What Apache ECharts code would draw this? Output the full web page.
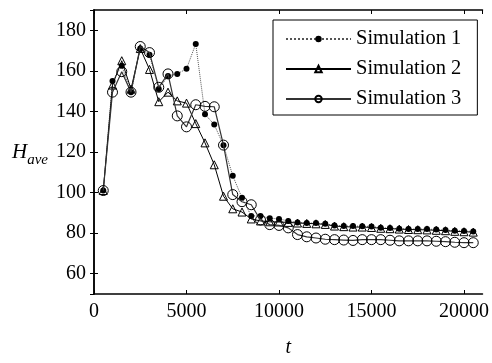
<!DOCTYPE html>
<html><head><meta charset="utf-8">
<script src="https://cdn.jsdelivr.net/npm/echarts@6/dist/echarts.min.js"></script>
<style>html,body{margin:0;padding:0;background:#fff}#c{width:492px;height:363px}</style>
</head><body><div id="c"></div>
<script>
const t = [500,1000,1500,2000,2500,3000,3500,4000,4500,5000,5500,6000,6500,7000,7500,8000,8500,9000,9500,10000,10500,11000,11500,12000,12500,13000,13500,14000,14500,15000,15500,16000,16500,17000,17500,18000,18500,19000,19500,20000,20500];
const sim1 = [101,155,162.5,149.5,171,168,151,157.5,158.5,161,173.3,138.6,133.5,123.3,108.3,97.4,88.5,88.5,87.4,87,86,85.3,85,85,84.6,83.8,83.5,83.5,83.4,83.3,82.6,82.5,82.2,82,82,82,81.8,81.5,81.2,81.1,80.8];
const sim2 = [101,153,165,151,171,160.7,144.8,149.5,145.2,144.1,134,124.5,113.7,98.2,92,90.4,87,86,85.6,85.5,85.3,85,84.8,84.6,84.3,83.5,83.2,83,83,82.8,82.4,82.2,82,81.8,81.7,81.6,81.4,81.2,80.9,80.7,80.5];
const sim3 = [101,149.5,159.6,149.5,172,169,151.9,158.5,137.8,132.4,143.3,142.5,142.3,123.4,99,95.5,94,86.5,84.2,83.8,82.6,79.3,78.2,77.6,77,76.8,76.6,76.4,76.8,76.8,76.8,76.5,76.2,76.2,76.2,76.2,76,75.8,75.5,75.3,75.3];
const names = ['Simulation 1','Simulation 2','Simulation 3'];
const xTicks = [0,5000,10000,15000,20000];
const yTicks = [60,80,100,120,140,160,180];

const pair = (ys) => t.map((x,i)=>[x,ys[i]]);
const font = 'Liberation Serif';
const chart = echarts.init(document.getElementById('c'));
const axisLine = {show:true, lineStyle:{color:'#000', width:1.5}};
chart.setOption({
  animation:false,
  backgroundColor:'#fff',
  grid:{left:94, right:7, top:10, bottom:56},
  legend:{
    left:273, top:20, orient:'vertical',
    backgroundColor:'#fff', borderColor:'#000', borderWidth:1,
    padding:[8,16,5,12], itemGap:8, itemWidth:65, itemHeight:8,
    textStyle:{fontFamily:font, fontSize:20.5, color:'#000', lineHeight:22},
    data:names
  },
  xAxis:[{
    type:'value', min:0, max:21000, interval:5000,
    axisLine:axisLine,
    axisTick:{show:true, inside:true, length:4, lineStyle:{color:'#000'}},
    splitLine:{show:false},
    axisLabel:{fontFamily:font, fontSize:20, color:'#000', margin:8, showMaxLabel:false,
      formatter:(v)=> xTicks.includes(v) ? String(v) : ''},
    name:'t', nameLocation:'middle', nameGap:44,
    nameTextStyle:{fontFamily:font, fontSize:20, fontStyle:'italic', color:'#000'}
  },{
    type:'value', position:'top', min:0, max:21000, interval:5000,
    axisLine:axisLine,
    axisTick:{show:true, inside:true, length:4, lineStyle:{color:'#000'}},
    axisLabel:{show:false}, splitLine:{show:false}
  }],
  yAxis:[{
    type:'value', min:50, max:190, splitNumber:7,
    axisLine:axisLine,
    axisTick:{show:true, inside:true, length:4, lineStyle:{color:'#000'}},
    splitLine:{show:false},
    axisLabel:{fontFamily:font, fontSize:20, color:'#000', margin:8, showMinLabel:false, showMaxLabel:false,
      formatter:(v)=> yTicks.includes(v) ? String(v) : ''},
    name:'{h|H}{s|ave}', nameLocation:'middle', nameRotate:0, nameGap:46,
    nameTextStyle:{fontFamily:font, color:'#000', align:'right',
      rich:{h:{fontFamily:font, fontSize:21, fontStyle:'italic', color:'#000'},
            s:{fontFamily:font, fontSize:15, fontStyle:'italic', color:'#000', padding:[16,0,0,0]}}}
  },{
    type:'value', position:'right', min:50, max:190, splitNumber:7,
    axisLine:axisLine,
    axisTick:{show:true, inside:true, length:4, lineStyle:{color:'#000'}},
    axisLabel:{show:false}, splitLine:{show:false}
  }],
  series:[
    {name:names[0], type:'line', data:pair(sim1), symbol:'circle', symbolSize:6,
     itemStyle:{color:'#000'}, lineStyle:{color:'#555', width:1, type:'dotted'}, z:2},
    {name:names[1], type:'line', data:pair(sim2), symbol:'triangle', symbolSize:8,
     itemStyle:{color:'rgba(255,255,255,0)', borderColor:'#000', borderWidth:1}, lineStyle:{color:'#000', width:1}, z:3},
    {name:names[2], type:'line', data:pair(sim3), symbol:'circle', symbolSize:10,
     itemStyle:{color:'rgba(255,255,255,0)', borderColor:'#000', borderWidth:1}, lineStyle:{color:'#333', width:1.2}, z:4}
  ]
});
</script></body></html>
